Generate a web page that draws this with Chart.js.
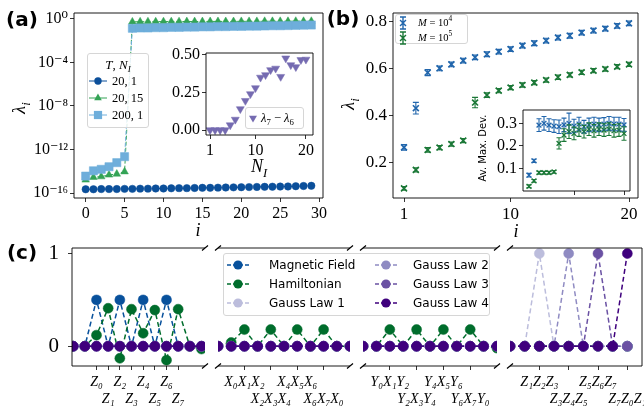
<!DOCTYPE html>
<html>
<head>
<meta charset="utf-8">
<script src="https://cdn.jsdelivr.net/npm/chart.js@4.4.1/dist/chart.umd.min.js"></script>
<style>
html, body { margin: 0; padding: 0; background: #fff; overflow: hidden; }
#fig { position: relative; width: 644px; height: 416px; overflow: hidden; background: #fff; }
#fig canvas { position: absolute; left: 0; top: 0; }
.t { position: absolute; white-space: nowrap; font-family: 'Liberation Serif', 'DejaVu Serif', serif; color: #000; line-height: 1; }
.c { transform: translate(-50%, -50%); }
.lc { transform: translate(0, -50%); }
.rot { transform: translate(-50%, -50%) rotate(-90deg); }
.panel { font-family: 'DejaVu Sans', sans-serif; font-weight: bold; font-size: 20px; }
.lg { position: absolute; background: rgba(255,255,255,0.85); border: 1px solid #d6d6d6; border-radius: 3px; box-sizing: border-box; }
sub, sup { font-size: 70%; line-height: 0; }
</style>
</head>
<body>
<div id="fig">
  <canvas id="chartA" width="700" height="416"></canvas>
  <canvas id="chartAInset" width="700" height="416"></canvas>
  <canvas id="chartB" width="700" height="416"></canvas>
  <canvas id="chartBInset" width="700" height="416"></canvas>
  <canvas id="chartC0" width="700" height="416"></canvas>
  <canvas id="chartC1" width="700" height="416"></canvas>
  <canvas id="chartC2" width="700" height="416"></canvas>
  <canvas id="chartC3" width="700" height="416"></canvas>
</div>
<script>
// ---------- (a) spectrum, log scale ----------
const aIdx = [0, 1, 2, 3, 4, 5, 6, 7, 8, 9, 10, 11, 12, 13, 14, 15, 16, 17, 18, 19, 20, 21, 22, 23, 24, 25, 26, 27, 28, 29];
const aCircle = [2.2e-16, 2.2e-16, 2.3e-16, 2.3e-16, 2.3e-16, 2.4e-16, 2.4e-16, 2.5e-16, 2.5e-16, 2.6e-16,
  2.6e-16, 2.7e-16, 2.8e-16, 2.8e-16, 2.9e-16, 3.0e-16, 3.0e-16, 3.1e-16, 3.2e-16, 3.3e-16,
  3.4e-16, 3.5e-16, 3.6e-16, 3.7e-16, 3.8e-16, 3.9e-16, 4.0e-16, 4.2e-16, 4.4e-16, 4.6e-16];
const aTriangle = [1.6e-15, 2.8e-15, 3.2e-15, 4.6e-15, 5.6e-15, 9.1e-15, 0.55, 0.56, 0.57, 0.57,
  0.58, 0.58, 0.58, 0.59, 0.59, 0.59, 0.6, 0.6, 0.6, 0.6,
  0.61, 0.61, 0.61, 0.62, 0.62, 0.62, 0.62, 0.63, 0.63, 0.63];
const aSquare = [3.6e-15, 1.1e-14, 1.5e-14, 2.6e-14, 6.2e-14, 2.2e-13, 0.14, 0.15, 0.15, 0.16,
  0.16, 0.17, 0.17, 0.18, 0.18, 0.19, 0.19, 0.2, 0.2, 0.21,
  0.21, 0.22, 0.22, 0.23, 0.24, 0.24, 0.25, 0.26, 0.27, 0.28];
const aNames = ['20, 1', '20, 15', '200, 1'];
const aXTicks = [0, 5, 10, 15, 20, 25, 30];
const aYTicks = [1e-16, 1e-12, 1e-8, 1e-4, 1];
const aYTickLabels = ['10⁻¹⁶', '10⁻¹²', '10⁻⁸', '10⁻⁴', '10⁰'];

// inset of (a): gap vs N_I
const aNI = [1, 2, 3, 4, 5, 6, 7, 8, 9, 10, 11, 12, 13, 14, 15, 16, 17, 18, 19, 20];
const aGap = [0, 0, 0, 0, 0.033, 0.07, 0.14, 0.195, 0.24, 0.28, 0.35, 0.367, 0.4, 0.41, 0.355, 0.478, 0.433, 0.42, 0.467, 0.47];
const aInsetXTicks = [1, 10, 20];
const aInsetYTicks = [0, 0.25, 0.5];
const aInsetYTickLabels = ['0.00', '0.25', '0.50'];

// ---------- (b) ----------
const bN = [1, 2, 3, 4, 5, 6, 7, 8, 9, 10, 11, 12, 13, 14, 15, 16, 17, 18, 19, 20];
const bBlue = [0.264, 0.431, 0.583, 0.601, 0.618, 0.634, 0.648, 0.661, 0.672, 0.683,
  0.698, 0.708, 0.719, 0.732, 0.740, 0.753, 0.762, 0.770, 0.782, 0.793];
const bBlueErr = [0.012, 0.025, 0.013, 0.01, 0.01, 0.01, 0.01, 0.01, 0.01, 0.01,
  0.01, 0.01, 0.01, 0.01, 0.01, 0.01, 0.01, 0.01, 0.01, 0.01];
const bGreen = [0.089, 0.168, 0.253, 0.263, 0.278, 0.293, 0.455, 0.487, 0.506, 0.519,
  0.530, 0.540, 0.551, 0.563, 0.573, 0.584, 0.591, 0.598, 0.608, 0.618];
const bGreenErr = [0.008, 0.009, 0.01, 0.009, 0.009, 0.009, 0.022, 0.01, 0.009, 0.009,
  0.009, 0.009, 0.009, 0.009, 0.009, 0.009, 0.009, 0.009, 0.009, 0.009];
const bXTicks = [1, 10, 20];
const bYTicks = [0.2, 0.4, 0.6, 0.8];

// inset of (b): average max deviation
const bInsetBlue = [0.07, 0.134, 0.292, 0.3, 0.292, 0.288, 0.285, 0.293, 0.3, 0.288,
  0.297, 0.285, 0.293, 0.297, 0.293, 0.297, 0.3, 0.297, 0.297, 0.293];
const bInsetBlueErr = [0.008, 0.007, 0.028, 0.03, 0.028, 0.028, 0.03, 0.03, 0.045, 0.03,
  0.03, 0.028, 0.03, 0.03, 0.03, 0.028, 0.03, 0.03, 0.03, 0.028];
const bInsetGreen = [0.021, 0.045, 0.081, 0.081, 0.081, 0.085, 0.211, 0.248, 0.263, 0.255,
  0.27, 0.263, 0.274, 0.267, 0.274, 0.27, 0.274, 0.267, 0.27, 0.255];
const bInsetGreenErr = [0.006, 0.006, 0.006, 0.006, 0.006, 0.006, 0.025, 0.028, 0.03, 0.028,
  0.028, 0.028, 0.028, 0.028, 0.028, 0.028, 0.028, 0.028, 0.028, 0.03];
const bInsetXTicks = [10, 20];
const bInsetYTicks = [0.1, 0.2, 0.3];

// ---------- (c) operator weights, four broken segments ----------
const cNames = ['Magnetic Field', 'Hamiltonian', 'Gauss Law 1', 'Gauss Law 2', 'Gauss Law 3', 'Gauss Law 4'];
const cMagnetic = [
  [0, 0, 0.5, 0, 0.5, 0, 0.5, 0, 0.5, 0, 0, 0],
  [0, 0, 0, 0, 0, 0, 0, 0, 0, 0, 0],
  [0, 0, 0, 0, 0, 0, 0, 0, 0, 0, 0],
  [0, 0, 0, 0, 0, 0, 0, 0, 0]
];
const cHamiltonian = [
  [0, 0, 0.12, 0.41, -0.13, 0.40, 0.14, 0.39, -0.15, 0.40, 0, -0.03],
  [0, 0.04, 0.18, 0, 0.18, 0, 0.18, 0, 0.18, 0, 0],
  [0, 0, 0.18, 0, 0.18, 0, 0.18, 0, 0.18, 0, -0.02],
  [0, 0, 0, 0, 0, 0, 0, 0, 0]
];
const cGauss1 = [
  [0, 0, 0, 0, 0, 0, 0, 0, 0, 0, 0, 0],
  [0, 0, 0, 0, 0, 0, 0, 0, 0, 0, 0],
  [0, 0, 0, 0, 0, 0, 0, 0, 0, 0, 0],
  [0, 0, 1, 0, 0, 0, 0, 0, 0]
];
const cGauss2 = [
  [0, 0, 0, 0, 0, 0, 0, 0, 0, 0, 0, 0],
  [0, 0, 0, 0, 0, 0, 0, 0, 0, 0, 0],
  [0, 0, 0, 0, 0, 0, 0, 0, 0, 0, 0],
  [0, 0, 0, 0, 1, 0, 0, 0, 0]
];
const cGauss3 = [
  [0, 0, 0, 0, 0, 0, 0, 0, 0, 0, 0, 0],
  [0, 0, 0, 0, 0, 0, 0, 0, 0, 0, 0],
  [0, 0, 0, 0, 0, 0, 0, 0, 0, 0, 0],
  [0, 0, 0, 0, 0, 0, 1, 0, 0]
];
const cGauss4 = [
  [0, 0, 0, 0, 0, 0, 0, 0, 0, 0, 0, 0],
  [0, 0, 0, 0, 0, 0, 0, 0, 0, 0, 0],
  [0, 0, 0, 0, 0, 0, 0, 0, 0, 0, 0],
  [0, 0, 0, 0, 0, 0, 0, 0, 1]
];
const cTickPos = [[2, 3, 4, 5, 6, 7, 8, 9], [2, 4, 6, 8], [2, 4, 6, 8], [2, 4, 6, 8]];
const cTickText = [
  ['Z₀', 'Z₁', 'Z₂', 'Z₃', 'Z₄', 'Z₅', 'Z₆', 'Z₇'],
  ['X₀X₁X₂', 'X₂X₃X₄', 'X₄X₅X₆', 'X₆X₇X₀'],
  ['Y₀X₁Y₂', 'Y₂X₃Y₄', 'Y₄X₅Y₆', 'Y₆X₇Y₀'],
  ['Z₁Z₂Z₃', 'Z₃Z₄Z₅', 'Z₅Z₆Z₇', 'Z₇Z₀Z₁']
];
const cYTicks = [0, 1];

// ---------- styles ----------
const SERIF = "'Liberation Serif', 'DejaVu Serif', serif";
const SANS = "'DejaVu Sans', sans-serif";
const aColors = ['#0b4f9a', '#33a355', '#6eaedb'];
const aStyles = ['circle', 'triangle', 'rect'];
const aRadius = [3.7, 4.4, 5.8];
const gapColor = '#756bb1';
const bColors = ['#2166ac', '#1b7837'];
const cColors = ['#08519c', '#006d2c', '#bcbddc', '#8f8bc2', '#6a51a3', '#3f007d'];
const CW = 700, CH = 416;

Chart.defaults.font.family = SERIF;
Chart.defaults.color = '#000';

const pts = (xs, ys) => xs.map((x, i) => ({ x, y: ys[i] }));
const idxPts = ys => ys.map((y, i) => ({ x: i, y }));

// frame (spines) and axis-break marks
const framePlugin = {
  id: 'frame',
  beforeDraw(chart, args, o) {
    if (!o.fill) return;
    const a = chart.chartArea, ctx = chart.ctx;
    ctx.save();
    ctx.fillStyle = '#fff';
    ctx.fillRect(a.left, a.top, a.right - a.left, a.bottom - a.top);
    ctx.restore();
  },
  afterDraw(chart, args, o) {
    const a = chart.chartArea, ctx = chart.ctx;
    const sides = o.sides || 'tlbr';
    ctx.save();
    ctx.strokeStyle = '#000';
    ctx.lineWidth = 0.9;
    ctx.beginPath();
    if (sides.includes('t')) { ctx.moveTo(a.left, a.top); ctx.lineTo(a.right, a.top); }
    if (sides.includes('b')) { ctx.moveTo(a.left, a.bottom); ctx.lineTo(a.right, a.bottom); }
    if (sides.includes('l')) { ctx.moveTo(a.left, a.top); ctx.lineTo(a.left, a.bottom); }
    if (sides.includes('r')) { ctx.moveTo(a.right, a.top); ctx.lineTo(a.right, a.bottom); }
    ctx.stroke();
    if (o.breaks) {
      ctx.beginPath();
      ctx.lineWidth = 1.2;
      o.breaks.split('').forEach(s => {
        const x = s === 'l' ? a.left : a.right;
        [a.top, a.bottom].forEach(y => { ctx.moveTo(x - 3, y + 2.5); ctx.lineTo(x + 3, y - 2.5); });
      });
      ctx.stroke();
    }
    ctx.restore();
  }
};

// vertical error bars with caps, placed with the chart's own scales
const errorBarPlugin = {
  id: 'errorBars',
  afterDatasetsDraw(chart) {
    const ctx = chart.ctx, xs = chart.scales.x, ys = chart.scales.y;
    chart.data.datasets.forEach(ds => {
      if (!ds.errors) return;
      ctx.save();
      ctx.strokeStyle = ds.borderColor;
      ctx.lineWidth = 1.1;
      ctx.beginPath();
      ds.data.forEach((p, i) => {
        const x = xs.getPixelForValue(p.x);
        const y1 = ys.getPixelForValue(p.y - ds.errors[i]);
        const y2 = ys.getPixelForValue(p.y + ds.errors[i]);
        const cap = ds.cap || 3;
        ctx.moveTo(x, y1); ctx.lineTo(x, y2);
        ctx.moveTo(x - cap, y1); ctx.lineTo(x + cap, y1);
        ctx.moveTo(x - cap, y2); ctx.lineTo(x + cap, y2);
      });
      ctx.stroke();
      ctx.restore();
    });
  }
};

function axis(o) {
  return {
    type: o.type || 'linear',
    display: o.display !== false,
    min: o.min, max: o.max,
    border: { display: false },
    grid: { display: true, drawOnChartArea: false, drawTicks: true, tickLength: 4, color: '#000', lineWidth: 0.8 },
    ticks: {
      autoSkip: false, maxRotation: 0, minRotation: 0, padding: o.pad != null ? o.pad : 2, color: '#000',
      font: { family: SERIF, size: o.size || 16, style: o.style || 'normal', lineHeight: 1.2 },
      callback: o.cb
    },
    afterBuildTicks: s => { s.ticks = o.ticks.map(v => ({ value: v })); },
    afterFit: s => { if (o.w != null) s.width = o.w; if (o.h != null) s.height = o.h; }
  };
}

function makeChart(id, area, yW, xH, scales, datasets, frame) {
  return new Chart(document.getElementById(id), {
    type: 'scatter',
    data: { datasets },
    options: {
      responsive: false, animation: false, devicePixelRatio: 1, events: [],
      layout: { padding: { left: area[0] - yW, top: area[1], right: CW - area[2], bottom: CH - area[3] - xH } },
      plugins: { legend: { display: false }, tooltip: { enabled: false }, frame },
      scales
    },
    plugins: [framePlugin, errorBarPlugin]
  });
}

// ---------- (a) ----------
makeChart('chartA', [74, 13, 323, 198], 50, 40, {
  x: axis({ min: -1.5, max: 30.5, ticks: aXTicks, h: 40, size: 16, cb: v => String(v) }),
  y: axis({ type: 'logarithmic', min: 3.47e-17, max: 3.56, ticks: aYTicks, w: 50, size: 16, cb: (v, i) => aYTickLabels[i] })
}, [aCircle, aTriangle, aSquare].map((ys, k) => ({
  data: pts(aIdx, ys), showLine: true, borderColor: aColors[k], borderWidth: 1, borderDash: [4, 2],
  pointStyle: aStyles[k], pointRadius: aRadius[k], pointBackgroundColor: aColors[k], pointBorderColor: aColors[k],
  pointBorderWidth: 0.5, order: 3 - k
})), { sides: 'tlbr' });

makeChart('chartAInset', [206, 53, 313, 135], 50, 30, {
  x: axis({ min: 0.2, max: 21.4, ticks: aInsetXTicks, h: 30, size: 16, cb: v => String(v) }),
  y: axis({ min: -0.033, max: 0.513, ticks: aInsetYTicks, w: 50, size: 16, cb: (v, i) => aInsetYTickLabels[i] })
}, [{
  data: pts(aNI, aGap), showLine: false, pointStyle: 'triangle', pointRotation: 180, pointRadius: 4.6,
  pointBackgroundColor: gapColor, pointBorderColor: gapColor, pointBorderWidth: 0.5
}], { sides: 'tlbr', fill: true });

// ---------- (b) ----------
makeChart('chartB', [393, 13, 638, 198], 50, 40, {
  x: axis({ min: 0.07, max: 20.76, ticks: bXTicks, h: 40, size: 17, cb: v => String(v) }),
  y: axis({ min: 0.048, max: 0.837, ticks: bYTicks, w: 50, size: 17, cb: v => v.toFixed(1) })
}, [[bBlue, bBlueErr], [bGreen, bGreenErr]].map(([ys, es], k) => ({
  data: pts(bN, ys), errors: es, cap: 3, showLine: false, borderColor: bColors[k],
  pointStyle: 'crossRot', pointRadius: 4.2, pointBorderColor: bColors[k], pointBorderWidth: 1.6, order: 2 - k
})), { sides: 'tlbr' });

makeChart('chartBInset', [523, 110, 630, 191], 40, 10, {
  x: axis({ min: -0.2, max: 21.2, ticks: bInsetXTicks, h: 10, size: 10, cb: () => '' }),
  y: axis({ min: 0.0, max: 0.359, ticks: bInsetYTicks, w: 40, size: 16, cb: v => v.toFixed(1) })
}, [[bInsetBlue, bInsetBlueErr], [bInsetGreen, bInsetGreenErr]].map(([ys, es], k) => ({
  data: pts(bN, ys), errors: es, cap: 2.5, showLine: false, borderColor: bColors[k],
  pointStyle: 'crossRot', pointRadius: 3.4, pointBorderColor: bColors[k], pointBorderWidth: 1.3, order: 2 - k
})), { sides: 'tlbr', fill: true });

// ---------- (c) ----------
const cAreas = [[72, 248, 205, 366], [218, 248, 350, 366], [363, 248, 497, 366], [510, 248, 642, 366]];
const cXRange = [[-0.1, 11.3], [0, 10], [0, 10], [0, 9]];
const cFrames = [{ sides: 'tbl', breaks: 'r' }, { sides: 'tb', breaks: 'lr' }, { sides: 'tb', breaks: 'lr' }, { sides: 'tbr', breaks: 'l' }];
const cSeries = [cMagnetic, cHamiltonian, cGauss1, cGauss2, cGauss3, cGauss4];
cAreas.forEach((area, s) => {
  const first = s === 0;
  const yW = first ? 50 : 0;
  makeChart('chartC' + s, area, yW, 45, {
    x: axis({
      min: cXRange[s][0], max: cXRange[s][1], ticks: cTickPos[s], h: 45, size: 14, style: 'italic', pad: 4,
      cb: (v, i) => (i % 2 === 0 ? [cTickText[s][i], ''] : ['', cTickText[s][i]])
    }),
    y: axis({ display: first, min: -0.213, max: 1.06, ticks: cYTicks, w: yW, size: 21, pad: 9, cb: v => String(v) })
  }, cSeries.map((ser, k) => ({
    data: idxPts(ser[s]), showLine: true, borderColor: cColors[k], borderWidth: 1.5, borderDash: [5, 3],
    pointStyle: 'circle', pointRadius: 5, pointBackgroundColor: cColors[k], pointBorderColor: cColors[k],
    pointBorderWidth: 0.5, order: 6 - k
  })), cFrames[s]);
});

// ---------- text overlays: panel tags, axis titles, legends ----------
const fig = document.getElementById('fig');
function put(html, x, y, cls, extra) {
  const d = document.createElement('div');
  d.className = 't ' + (cls || '');
  d.innerHTML = html;
  d.style.left = x + 'px';
  d.style.top = y + 'px';
  if (extra) Object.assign(d.style, extra);
  fig.appendChild(d);
  return d;
}
function box(x, y, w, h) {
  const d = document.createElement('div');
  d.className = 'lg';
  Object.assign(d.style, { left: x + 'px', top: y + 'px', width: w + 'px', height: h + 'px' });
  fig.appendChild(d);
}
function markerSvg(style, color, r) {
  const s = r * 0.7071, h = r * 0.866;
  switch (style) {
    case 'circle': return `<circle cx="0" cy="0" r="${r}" fill="${color}"/>`;
    case 'triangle': return `<polygon points="0,${-r} ${h},${r / 2} ${-h},${r / 2}" fill="${color}"/>`;
    case 'tridown': return `<polygon points="0,${r} ${h},${-r / 2} ${-h},${-r / 2}" fill="${color}"/>`;
    case 'rect': return `<rect x="${-s}" y="${-s}" width="${2 * s}" height="${2 * s}" fill="${color}"/>`;
    case 'errx': return `<g stroke="${color}" stroke-width="1.4" fill="none">
      <path d="M0,-6 L0,6 M-3,-6 L3,-6 M-3,6 L3,6 M${-s},${-s} L${s},${s} M${-s},${s} L${s},${-s}"/></g>`;
  }
  return '';
}
function symbol(w, h, style, color, r, line) {
  const ln = line ? `<line x1="${-w / 2}" y1="0" x2="${w / 2}" y2="0" stroke="${color}" stroke-width="${line.width}"${line.dash ? ` stroke-dasharray="${line.dash}"` : ''}/>` : '';
  return `<svg width="${w}" height="${h}" viewBox="${-w / 2} ${-h / 2} ${w} ${h}" style="display:block">${ln}${markerSvg(style, color, r)}</svg>`;
}

put('(a)', 22, 19, 'c panel');
put('(b)', 343, 18, 'c panel');
put('(c)', 22, 252, 'c panel');

put('<i>λ</i><sub><i>i</i></sub>', 19, 108, 'rot', { fontSize: '18px' });
put('<i>i</i>', 198, 230, 'c', { fontSize: '18px' });
put('<i>N</i><sub><i>I</i></sub>', 259, 166, 'c', { fontSize: '18px' });
put('<i>λ</i><sub><i>i</i></sub>', 348, 104, 'rot', { fontSize: '18px' });
put('<i>i</i>', 516, 231, 'c', { fontSize: '18px' });
put('Av. Max. Dev.', 483, 148, 'rot', { fontFamily: SANS, fontSize: '10px' });

// legend (a)
box(87, 53, 62, 75);
put('<i>T</i>, <i>N</i><sub><i>I</i></sub>', 118, 64, 'c', { fontSize: '13px' });
[81, 98, 115].forEach((y, k) => {
  put(symbol(18, 12, aStyles[k], aColors[k], aRadius[k], { width: 1 }), 98, y, 'c');
  put(aNames[k], 112, y, 'lc', { fontSize: '12.5px' });
});

// legend (a) inset
box(245, 107, 59, 22);
put(symbol(10, 10, 'tridown', gapColor, 4.6), 253, 118, 'c');
put('<i>λ</i><sub>7</sub> − <i>λ</i><sub>6</sub>', 261, 118, 'lc', { fontSize: '12.5px' });

// legend (b)
const bLegend = ['<i>M</i> = 10<sup>4</sup>', '<i>M</i> = 10<sup>5</sup>'];
box(395, 14, 73, 30);
[23, 38].forEach((y, k) => {
  put(symbol(10, 14, 'errx', bColors[k], 4.2), 403, y, 'c');
  put(bLegend[k], 418, y, 'lc', { fontSize: '10.5px' });
});

// legend (c)
box(223, 253, 267, 63);
[265, 284, 303].forEach((y, r) => {
  put(symbol(22, 12, 'circle', cColors[r], 4.6, { width: 1.5, dash: '4,2' }), 238, y, 'c');
  put(cNames[r], 269, y, 'lc', { fontFamily: SANS, fontSize: '12px' });
  put(symbol(22, 12, 'circle', cColors[r + 3], 4.6, { width: 1.5, dash: '4,2' }), 386, y, 'c');
  put(cNames[r + 3], 413, y, 'lc', { fontFamily: SANS, fontSize: '12px' });
});
</script>
</body>
</html>
